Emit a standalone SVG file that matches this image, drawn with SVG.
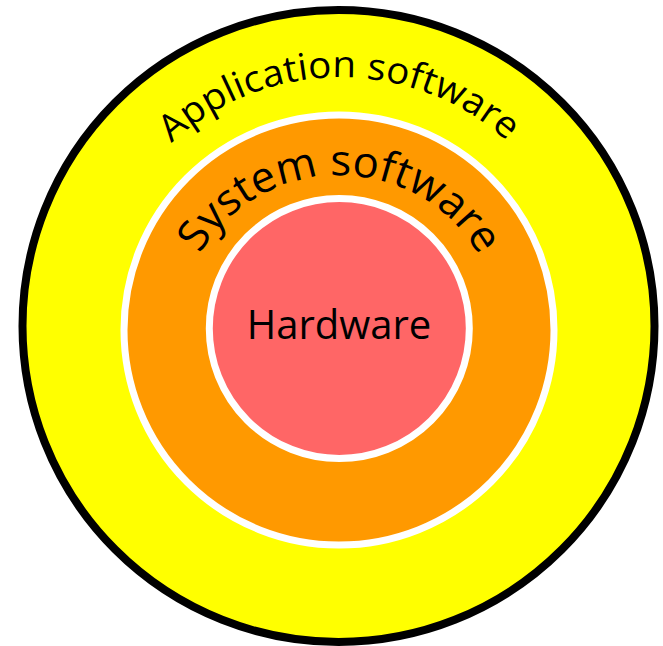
<svg xmlns="http://www.w3.org/2000/svg" width="663" height="646" viewBox="0 0 663 646">
  <style>
    .lbl { font-family: "Open Sans", "Noto Sans", "DejaVu Sans", sans-serif; fill: #000; }
  </style>
  <defs>
    <path id="arcApp" d="M 171.4 143.2 A 248 246 0 0 1 508 142"/>
    <path id="arcSys" d="M 200 254 A 159 153 0 0 1 478 254"/>
  </defs>
  <g id="application">
    <circle cx="338.5" cy="326" r="316" fill="#FFFF00" stroke="#000" stroke-width="8"/>
    <text class="lbl" font-size="37"><textPath href="#arcApp" textLength="368" lengthAdjust="spacingAndGlyphs">Application software</textPath></text>
  </g>
  <g id="system">
    <circle cx="339" cy="330" r="215" fill="#FF9900" stroke="#FFFFFF" stroke-width="7"/>
    <text class="lbl" font-size="43"><textPath href="#arcSys" textLength="336" lengthAdjust="spacingAndGlyphs">System software</textPath></text>
  </g>
  <g id="hardware">
    <circle cx="339.3" cy="328.5" r="130" fill="#FF6666" stroke="#FFFFFF" stroke-width="7"/>
    <text class="lbl" x="339" y="339" font-size="40" text-anchor="middle">Hardware</text>
  </g>
  <g id="connectors"/>
</svg>
